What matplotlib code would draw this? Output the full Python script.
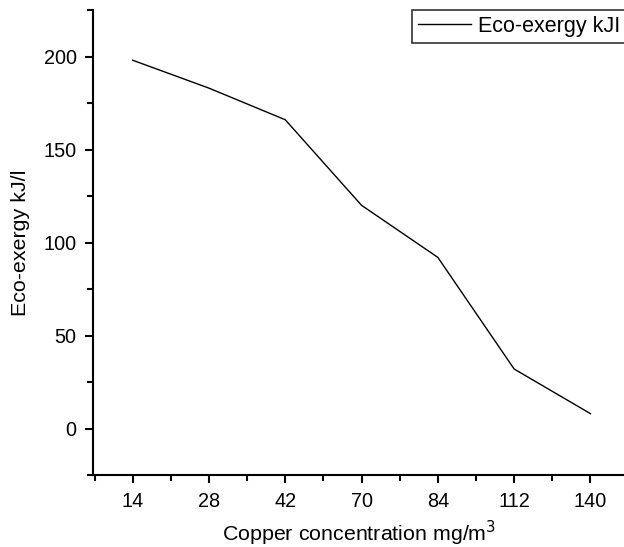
import matplotlib.pyplot as plt
from matplotlib.ticker import MultipleLocator, AutoMinorLocator

# copper concentration (mg/m3) and eco-exergy (kJ/l)
copper = ['14', '28', '42', '70', '84', '112', '140']
exergy = [198, 183, 166, 120, 92, 32, 8]

plt.rcParams['font.family'] = ['Liberation Sans', 'DejaVu Sans']
plt.rcParams['font.size'] = 14

fig = plt.figure(figsize=(6.24, 5.47), dpi=100)
ax = fig.add_axes([0.1495, 0.1316, 0.8505, 0.8501])

x = list(range(len(copper)))
ax.plot(x, exergy, color='black', linewidth=1.0, label='Eco-exergy kJI')

ax.set_xlim(-0.516, 6.44)
ax.set_ylim(-25, 225)
ax.set_xticks(x)
ax.set_xticklabels(copper)
ax.xaxis.set_minor_locator(MultipleLocator(0.5))
ax.yaxis.set_major_locator(MultipleLocator(50))
ax.yaxis.set_minor_locator(AutoMinorLocator(2))

for side in ['top', 'right']:
    ax.spines[side].set_visible(False)
for side in ['left', 'bottom']:
    ax.spines[side].set_linewidth(1.5)

ax.tick_params(which='major', direction='out', length=6, width=1.5, labelsize=14.3, pad=6)
ax.tick_params(which='minor', direction='out', length=4, width=1.5)

ax.set_xlabel('Copper concentration mg/m$^3$', fontsize=15.4, labelpad=6)
ax.set_ylabel('Eco-exergy kJ/l', fontsize=15.4, labelpad=10)

leg = ax.legend(loc='upper left', bbox_to_anchor=(412 / 624, 1 - 9.5 / 547),
                bbox_transform=fig.transFigure, frameon=True, fancybox=False,
                borderaxespad=0, handlelength=2.45, handletextpad=0.33,
                borderpad=0.3, fontsize=15.5)
leg.get_frame().set_edgecolor('black')
leg.get_frame().set_linewidth(1.2)

fig.savefig('out.png', dpi=100)
